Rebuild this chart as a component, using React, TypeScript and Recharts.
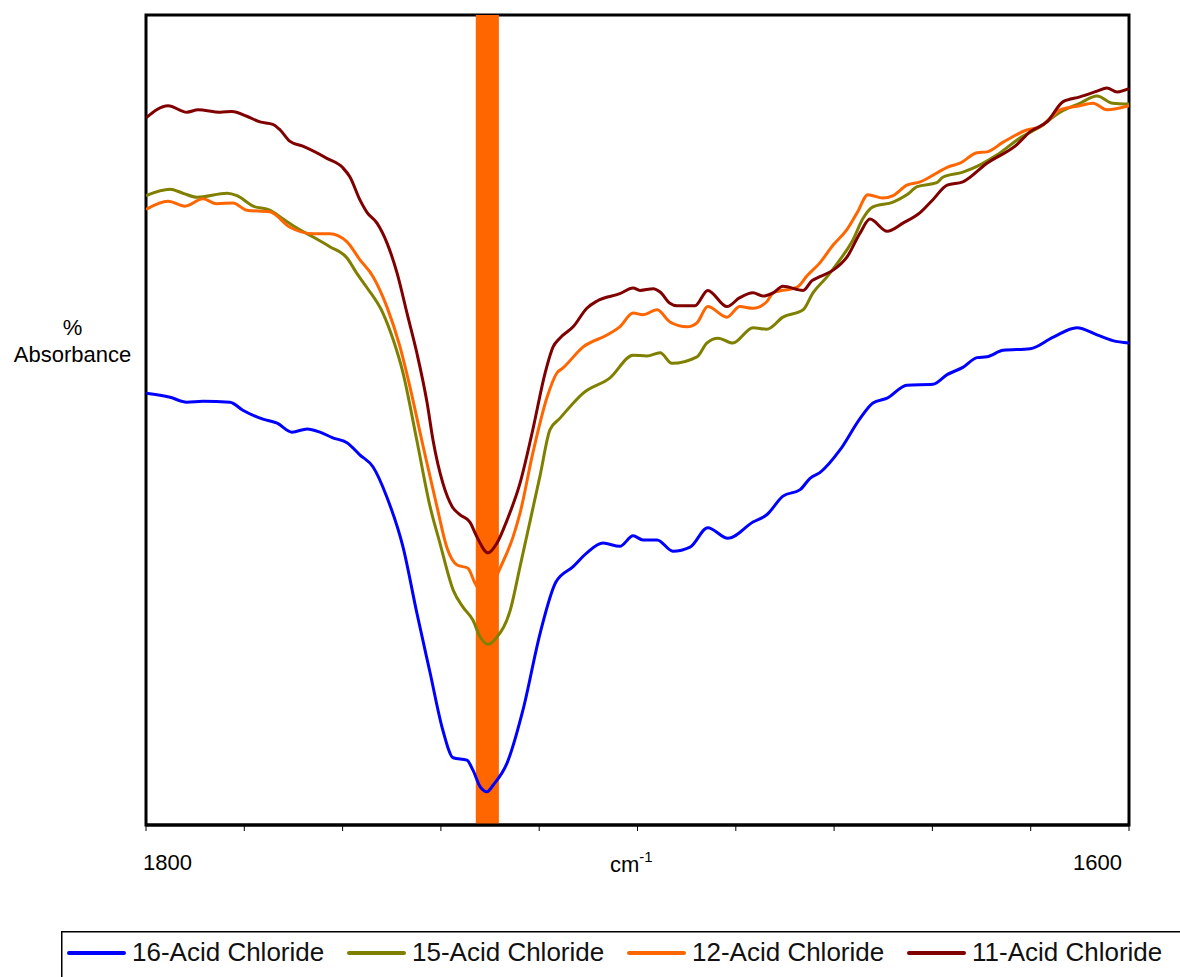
import React from 'react';
import { LineChart, Line, XAxis, YAxis, ReferenceArea, Legend } from 'recharts';

// Wavenumbers (cm-1) and relative absorbance readings for each series
const wn16 = [1800, 1795.1, 1791.7, 1788.4, 1782.9, 1780.3, 1776.2, 1773.3, 1770.3, 1767.2, 1764.6, 1762.0, 1759.1, 1756.5, 1753.8, 1751.0, 1747.7, 1744.9, 1742.2, 1739.6, 1737.5, 1734.7, 1733.5, 1732.0, 1730.6, 1729.4, 1726.5, 1723.3, 1719.8, 1716.6, 1713.1, 1710.3, 1707.0, 1703.6, 1700.9, 1698.9, 1696.0, 1692.8, 1689.3, 1685.7, 1681.6, 1676.5, 1673.7, 1670.4, 1666.9, 1664.9, 1662.9, 1658.8, 1654.7, 1652.1, 1649.2, 1645.2, 1639.9, 1637.0, 1633.8, 1630.9, 1628.9, 1625.6, 1620.1, 1615.5, 1610.6, 1606.5, 1603.3, 1600];
const abs16 = [53.3, 52.8, 52.2, 52.3, 52.2, 51.2, 50.1, 49.6, 48.5, 48.9, 48.5, 47.8, 47.2, 45.7, 44.2, 40.5, 34.3, 26.2, 18.8, 11.7, 8.3, 8.0, 6.8, 4.7, 4.1, 4.9, 7.7, 14.2, 23.7, 30.0, 31.9, 33.6, 34.8, 34.4, 35.7, 35.2, 35.2, 33.8, 34.3, 36.7, 35.4, 37.4, 38.3, 40.6, 41.4, 42.8, 43.5, 46.3, 50.2, 52.1, 52.7, 54.3, 54.4, 55.6, 56.5, 57.7, 57.8, 58.6, 58.8, 60.2, 61.4, 60.5, 59.8, 59.5];

const wn15 = [1800, 1795.1, 1792.5, 1789.6, 1783.5, 1781.5, 1778.2, 1774.8, 1772.1, 1769.3, 1766.0, 1762.6, 1759.1, 1757.1, 1755.0, 1751.8, 1749.7, 1747.7, 1744.9, 1742.2, 1740.2, 1737.5, 1735.5, 1733.5, 1732.0, 1730.4, 1728.6, 1725.9, 1723.9, 1721.9, 1719.8, 1717.8, 1715.8, 1711.1, 1705.6, 1700.9, 1698.1, 1695.4, 1693.0, 1687.9, 1685.9, 1683.6, 1680.6, 1676.5, 1673.7, 1670.4, 1666.3, 1664.3, 1661.4, 1658.8, 1656.2, 1654.1, 1652.1, 1648.0, 1645.2, 1643.1, 1639.1, 1637.8, 1633.8, 1630.3, 1626.9, 1622.2, 1618.1, 1614.0, 1610.0, 1606.5, 1603.3, 1600];
const abs15 = [77.7, 78.5, 78.0, 77.5, 78.0, 77.7, 76.4, 75.9, 74.8, 73.7, 72.6, 71.4, 70.0, 68.1, 66.3, 63.2, 59.9, 55.8, 47.5, 39.3, 34.8, 29.0, 26.9, 25.3, 23.2, 22.3, 23.2, 26.5, 31.9, 37.4, 43.2, 48.8, 50.2, 53.3, 55.2, 58.0, 57.9, 58.3, 57.0, 57.8, 59.5, 60.1, 59.5, 61.4, 61.2, 62.7, 63.6, 65.7, 67.7, 69.8, 72.2, 74.9, 76.3, 76.9, 77.8, 78.8, 79.3, 80.0, 80.6, 81.5, 82.7, 84.8, 86.2, 88.0, 89.1, 90.0, 89.1, 89.0];

const wn12 = [1800, 1795.5, 1792.1, 1788.4, 1785.6, 1782.3, 1779.5, 1774.8, 1770.7, 1766.0, 1762.6, 1759.1, 1756.5, 1753.8, 1751.0, 1748.3, 1746.3, 1743.6, 1740.8, 1738.8, 1736.7, 1734.5, 1733.1, 1730.6, 1728.4, 1725.3, 1723.9, 1721.3, 1718.4, 1716.4, 1715.2, 1711.1, 1706.2, 1703.6, 1700.9, 1698.9, 1696.0, 1693.4, 1689.9, 1687.9, 1685.7, 1681.8, 1679.2, 1676.5, 1673.7, 1672.4, 1667.5, 1665.5, 1662.9, 1660.2, 1657.4, 1655.3, 1653.1, 1650.1, 1648.0, 1645.2, 1642.5, 1639.1, 1637.0, 1634.4, 1630.9, 1628.9, 1625.6, 1620.8, 1618.1, 1614.0, 1610.0, 1607.3, 1604.5, 1600];
const abs12 = [76.0, 77.0, 76.4, 77.3, 76.7, 76.8, 75.9, 75.7, 73.8, 73.0, 73.0, 72.0, 69.8, 67.7, 64.0, 59.0, 54.1, 46.7, 39.3, 34.3, 32.1, 31.7, 29.9, 28.0, 31.1, 35.6, 38.5, 45.9, 52.8, 55.8, 56.4, 59.0, 60.5, 61.5, 63.2, 63.0, 63.6, 62.1, 61.5, 62.0, 64.0, 62.7, 64.0, 63.8, 64.6, 65.7, 66.4, 67.8, 69.4, 71.6, 73.5, 75.6, 77.8, 77.4, 77.7, 79.0, 79.4, 80.5, 81.2, 81.7, 83.0, 83.1, 84.3, 85.8, 86.2, 88.3, 88.8, 89.1, 88.3, 88.8];

const wn11 = [1800, 1795.5, 1791.7, 1789.4, 1784.9, 1782.5, 1779.5, 1776.8, 1774.2, 1772.7, 1770.7, 1768.1, 1763.2, 1759.9, 1758.5, 1756.5, 1755.0, 1753.0, 1751.0, 1748.9, 1746.9, 1744.9, 1742.8, 1741.6, 1739.6, 1737.7, 1736.1, 1734.1, 1732.7, 1730.4, 1728.6, 1726.5, 1723.9, 1721.3, 1718.8, 1717.2, 1715.8, 1713.1, 1710.3, 1708.2, 1703.6, 1700.9, 1699.5, 1696.8, 1695.4, 1693.4, 1692.0, 1688.3, 1685.7, 1681.8, 1679.2, 1676.5, 1674.5, 1672.4, 1670.4, 1666.3, 1664.5, 1662.9, 1660.2, 1657.4, 1654.7, 1652.7, 1649.2, 1646.0, 1642.5, 1639.9, 1637.0, 1633.8, 1628.9, 1622.8, 1620.1, 1616.7, 1613.4, 1610.0, 1606.5, 1604.5, 1602.4, 1600];
const abs11 = [87.3, 88.8, 88.0, 88.3, 88.0, 88.1, 87.5, 86.8, 86.5, 85.8, 84.4, 83.8, 82.3, 81.1, 80.0, 77.2, 75.6, 74.3, 71.9, 68.1, 63.2, 58.3, 52.1, 47.5, 42.2, 39.3, 38.3, 37.4, 35.6, 33.6, 34.8, 37.7, 42.2, 48.8, 55.8, 59.0, 60.1, 61.5, 63.8, 64.7, 65.6, 66.3, 66.0, 66.2, 65.8, 64.4, 64.1, 64.1, 66.0, 64.0, 65.1, 65.7, 65.3, 65.7, 66.5, 66.0, 67.2, 67.7, 68.5, 70.1, 73.1, 74.8, 73.3, 74.3, 75.6, 77.2, 79.0, 79.4, 81.7, 84.0, 85.6, 86.8, 89.3, 89.9, 90.6, 91.0, 90.5, 90.9];

const seriesNames = ['16-Acid Chloride', '15-Acid Chloride', '12-Acid Chloride', '11-Acid Chloride'];
const seriesColors = ['#0000FF', '#808000', '#FF6600', '#800000'];

const xTicks = [1800, 1780, 1760, 1740, 1720, 1700, 1680, 1660, 1640, 1620, 1600];
const labelledTicks = [1800, 1600];
const bandRange = [1732.9, 1728.2];
const xDomain = [1600, 1800];
const yDomain = [0, 100];

const toData = (w: number[], v: number[]) => w.map((x, i) => ({ w: x, v: v[i] }));
const seriesData = [toData(wn16, abs16), toData(wn15, abs15), toData(wn12, abs12), toData(wn11, abs11)];

const FONT = "Arial, 'Liberation Sans', sans-serif";

const XTick = (props: any) => {
  const { x, y, payload } = props;
  const v = payload.value;
  if (!labelledTicks.includes(v)) return <g />;
  const first = v === labelledTicks[0];
  return (
    <text x={first ? x - 3 : x - 7} y={y + 37} textAnchor={first ? 'start' : 'end'} fontSize={22} fontFamily={FONT} fill="#000">
      {v}
    </text>
  );
};

const XLabel = (props: any) => {
  const vb = props.viewBox || { x: 146, y: 825 };
  return (
    <text x={vb.x + 464} y={vb.y + 47} fontSize={22} fontFamily={FONT} fill="#000">
      cm<tspan dy={-10} fontSize={15}>-1</tspan>
    </text>
  );
};

const YLabel = () => (
  <g>
    <text x={72.5} y={335} textAnchor="middle" fontSize={22} fontFamily={FONT} fill="#000">%</text>
    <text x={72.5} y={362} textAnchor="middle" fontSize={22} fontFamily={FONT} fill="#000">Absorbance</text>
  </g>
);

const LegendBox = () => (
  <svg width={1125} height={60} style={{ display: 'block' }}>
    <rect x={0.75} y={0.75} width={1140} height={70} fill="#fff" stroke="#000" strokeWidth={1.5} />
    {seriesNames.map((n, i) => (
      <g key={n}>
        <line x1={8 + 280 * i} x2={63 + 280 * i} y1={22} y2={22} stroke={seriesColors[i]} strokeWidth={4} strokeLinecap="round" />
        <text x={71 + 280 * i} y={30} fontSize={26} fontFamily={FONT} fill="#111">{n}</text>
      </g>
    ))}
  </svg>
);

export default function App() {
  return (
    <div style={{ position: 'relative', width: 1180, height: 977, overflow: 'hidden', background: '#fff' }}>
      <style>{`body{margin:0;}`}</style>
      <LineChart width={1180} height={977} margin={{ top: 15, right: 51, bottom: 112, left: 146 }}>
        <XAxis
          dataKey="w"
          type="number"
          domain={xDomain}
          reversed
          ticks={xTicks}
          allowDataOverflow
          height={40}
          axisLine={{ stroke: '#000', strokeWidth: 3 }}
          tickLine={{ stroke: '#000', strokeWidth: 1 }}
          tickSize={6}
          tick={<XTick />}
          interval={0}
          label={{ content: <XLabel /> } as any}
        />
        <YAxis
          type="number"
          domain={yDomain}
          allowDataOverflow
          width={0}
          tick={false}
          tickLine={false}
          axisLine={false}
        />
        <ReferenceArea
          x1={xDomain[1]}
          x2={xDomain[0]}
          y1={yDomain[1]}
          y2={yDomain[0]}
          fill="none"
          fillOpacity={0}
          stroke="#000"
          strokeWidth={3}
          label={{ content: <YLabel /> } as any}
        />
        <ReferenceArea x1={bandRange[0]} x2={bandRange[1]} fill="#FF6600" fillOpacity={1} stroke="none" />
        {seriesData.map((d, i) => (
          <Line
            key={seriesNames[i]}
            data={d}
            dataKey="v"
            name={seriesNames[i]}
            type="monotone"
            stroke={seriesColors[i]}
            strokeWidth={3}
            dot={false}
            activeDot={false}
            isAnimationActive={false}
          />
        ))}
        <Legend
          layout="horizontal"
          align="center"
          verticalAlign="middle"
          wrapperStyle={{ left: 61, top: 931, width: 1125, height: 60 }}
          content={<LegendBox />}
        />
      </LineChart>
    </div>
  );
}
